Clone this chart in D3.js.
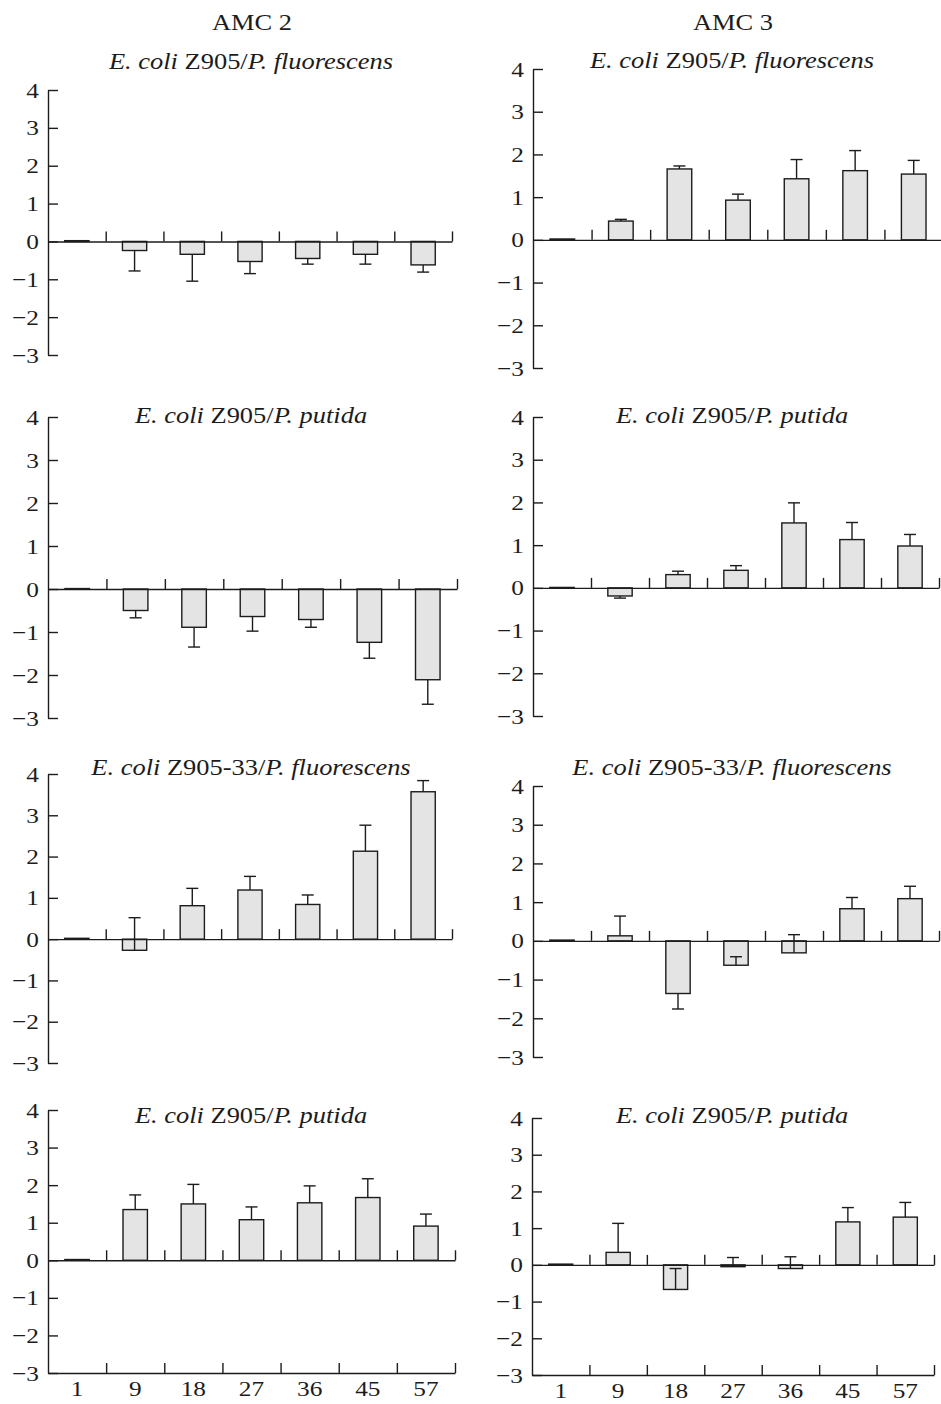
<!DOCTYPE html>
<html>
<head>
<meta charset="utf-8">
<script src="https://cdn.jsdelivr.net/npm/d3@7"></script>
<style>
  body { margin: 0; background: #fff; }
  svg { display: block; font-family: "Liberation Serif", "Times New Roman", serif; }
</style>
</head>
<body>
<div id="chart"></div>
<script>
// sampling days (x categories) and y ticks
const days = ["1", "9", "18", "27", "36", "45", "57"];
const yTicks = [-3, -2, -1, 0, 1, 2, 3, 4];
const columnTitles = ["AMC 2", "AMC 3"];

// panel titles: [text, italic]
const titleFluor = [["E. coli", true], [" Z905/", false], ["P. fluorescens", true]];
const titlePutida = [["E. coli", true], [" Z905/", false], ["P. putida", true]];
const titleFluor33 = [["E. coli", true], [" Z905-33/", false], ["P. fluorescens", true]];

// bar values and the value where each error bar ends
const amc2Fluor     = [0.02, -0.24, -0.34, -0.53, -0.45, -0.34, -0.62];
const amc2FluorErr  = [null, -0.78, -1.05, -0.85, -0.60, -0.60, -0.81];
const amc3Fluor     = [0.02, 0.44, 1.66, 0.93, 1.43, 1.62, 1.54];
const amc3FluorErr  = [null, 0.48, 1.73, 1.07, 1.88, 2.09, 1.86];
const amc2Putida    = [0.01, -0.50, -0.89, -0.64, -0.71, -1.24, -2.11];
const amc2PutidaErr = [null, -0.67, -1.35, -0.98, -0.89, -1.61, -2.68];
const amc3Putida    = [0.01, -0.19, 0.31, 0.41, 1.52, 1.13, 0.98];
const amc3PutidaErr = [null, -0.24, 0.39, 0.52, 1.99, 1.53, 1.25];
const amc2Fluor33    = [0.02, -0.27, 0.81, 1.19, 0.84, 2.13, 3.57];
const amc2Fluor33Err = [null, 0.52, 1.23, 1.52, 1.07, 2.76, 3.84];
const amc3Fluor33    = [0.02, 0.13, -1.36, -0.63, -0.31, 0.83, 1.09];
const amc3Fluor33Err = [null, 0.64, -1.76, -0.41, 0.16, 1.12, 1.41];
const amc2Putida2    = [0.02, 1.35, 1.50, 1.08, 1.53, 1.67, 0.91];
const amc2Putida2Err = [null, 1.74, 2.02, 1.42, 1.98, 2.17, 1.23];
const amc3Putida2    = [0.02, 0.34, -0.67, -0.05, -0.10, 1.17, 1.30];
const amc3Putida2Err = [null, 1.13, -0.10, 0.20, 0.22, 1.56, 1.70];

const width = 941, height = 1404;
const textScale = 1.15;   // the scanned lettering is a bit wide
const ink = "#1c1c1c";

// layout: box = [left, y(4), right, y(-3)], title position
const panels = [
  { title: titleFluor,   values: amc2Fluor,   tips: amc2FluorErr,   box: [48, 90, 452, 355],    tx: 251, ty: 69 },
  { title: titleFluor,   values: amc3Fluor,   tips: amc3FluorErr,   box: [533, 69, 943, 368],   tx: 732, ty: 68 },
  { title: titlePutida,  values: amc2Putida,  tips: amc2PutidaErr,  box: [48, 417, 457, 718],   tx: 251, ty: 423 },
  { title: titlePutida,  values: amc3Putida,  tips: amc3PutidaErr,  box: [533, 417, 939, 716],  tx: 732, ty: 423 },
  { title: titleFluor33, values: amc2Fluor33, tips: amc2Fluor33Err, box: [48, 774, 452, 1063],  tx: 251, ty: 775 },
  { title: titleFluor33, values: amc3Fluor33, tips: amc3Fluor33Err, box: [533, 786, 939, 1057], tx: 732, ty: 775 },
  { title: titlePutida,  values: amc2Putida2, tips: amc2Putida2Err, box: [48, 1110, 455, 1373], tx: 251, ty: 1123, bottom: true },
  { title: titlePutida,  values: amc3Putida2, tips: amc3Putida2Err, box: [532, 1118, 934, 1375], tx: 732, ty: 1123, bottom: true }
];

const svg = d3.select("#chart")
  .append("svg")
  .attr("width", width)
  .attr("height", height);

// column headers
svg.selectAll(".col-title")
  .data(columnTitles)
  .enter()
  .append("text")
  .attr("class", "col-title")
  .attr("transform", (d, i) => `translate(${i === 0 ? 252 : 733},30) scale(${textScale},1)`)
  .attr("text-anchor", "middle")
  .attr("font-size", 23)
  .attr("fill", ink)
  .text(d => d);

function drawPanel(p) {
  const [left, top, right, bottom] = p.box;
  const g = svg.append("g");

  const y = d3.scaleLinear().domain([-3, 4]).range([bottom, top]);
  const x = d3.scaleBand().domain(days).range([left, right]);
  const xEdge = d3.scaleLinear().domain([0, days.length]).range([left, right]);
  const barW = x.bandwidth() * 0.42;

  const data = days.map((d, i) => ({ day: d, value: p.values[i], tip: p.tips[i] }));

  // title
  const t = g.append("text")
    .attr("transform", `translate(${p.tx},${p.ty}) scale(${textScale},1)`)
    .attr("text-anchor", "middle")
    .attr("font-size", 23)
    .attr("fill", ink);
  t.selectAll("tspan")
    .data(p.title)
    .enter()
    .append("tspan")
    .attr("font-style", d => d[1] ? "italic" : "normal")
    .text(d => d[0]);

  // bars
  g.selectAll(".bar")
    .data(data)
    .enter()
    .append("rect")
    .attr("class", "bar")
    .attr("x", d => x(d.day) + (x.bandwidth() - barW) / 2)
    .attr("y", d => y(Math.max(d.value, 0)))
    .attr("width", barW)
    .attr("height", d => Math.abs(y(d.value) - y(0)))
    .attr("fill", "#e4e4e4")
    .attr("stroke", ink)
    .attr("stroke-width", 1.4);

  // error bars
  const err = data.filter(d => d.tip !== null);
  g.selectAll(".err")
    .data(err)
    .enter()
    .append("line")
    .attr("x1", d => x(d.day) + x.bandwidth() / 2)
    .attr("x2", d => x(d.day) + x.bandwidth() / 2)
    .attr("y1", d => y(d.value))
    .attr("y2", d => y(d.tip))
    .attr("stroke", ink)
    .attr("stroke-width", 1.4);
  g.selectAll(".cap")
    .data(err)
    .enter()
    .append("line")
    .attr("x1", d => x(d.day) + x.bandwidth() / 2 - 6)
    .attr("x2", d => x(d.day) + x.bandwidth() / 2 + 6)
    .attr("y1", d => y(d.tip))
    .attr("y2", d => y(d.tip))
    .attr("stroke", ink)
    .attr("stroke-width", 1.4);

  // y axis, ticks pointing inward
  const yAxis = g.append("g")
    .attr("transform", `translate(${left},0)`)
    .call(d3.axisLeft(y)
      .tickValues(yTicks)
      .tickFormat(d3.format("d"))
      .tickSizeInner(-10)
      .tickSizeOuter(0)
      .tickPadding(8));
  yAxis.selectAll("text")
    .attr("font-size", 22)
    .attr("font-family", "Liberation Serif, serif")
    .attr("fill", ink)
    .attr("transform", `scale(${textScale},1)`);

  // zero line with upward ticks at category edges
  const edgeAxis = d3.axisTop(xEdge)
    .tickValues(d3.range(1, days.length + 1))
    .tickSize(10)
    .tickSizeOuter(0)
    .tickFormat("");
  g.append("g")
    .attr("transform", `translate(0,${y(0)})`)
    .call(edgeAxis);

  if (p.bottom) {
    g.append("g")
      .attr("transform", `translate(0,${y(-3)})`)
      .call(edgeAxis);
    const lab = g.append("g")
      .attr("transform", `translate(0,${y(-3)})`)
      .call(d3.axisBottom(x).tickSize(0).tickPadding(7));
    lab.select(".domain").remove();
    lab.selectAll("text")
      .attr("font-size", 22)
      .attr("font-family", "Liberation Serif, serif")
      .attr("fill", ink)
      .attr("transform", `scale(${textScale},1)`);
  }

  g.selectAll(".domain, .tick line")
    .attr("stroke", ink)
    .attr("stroke-width", 1.4);
}

panels.forEach(drawPanel);
</script>
</body>
</html>
